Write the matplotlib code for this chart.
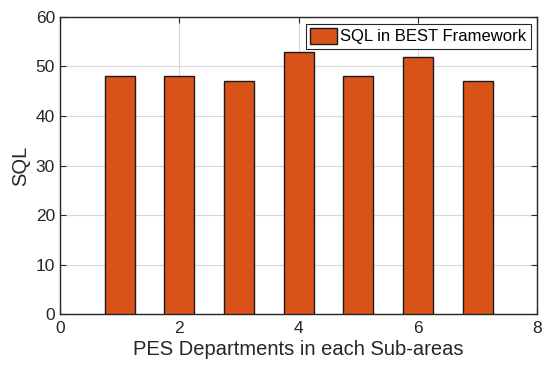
import matplotlib
matplotlib.use("Agg")
import matplotlib.pyplot as plt

departments = [1, 2, 3, 4, 5, 6, 7]
sql_values = [48, 48, 47, 53, 48, 52, 47]
series_label = "SQL in BEST Framework"

BAR_COLOR = "#D95319"

plt.rcParams.update({
    "font.family": ["Liberation Sans", "DejaVu Sans"],
    "axes.edgecolor": "#262626",
    "xtick.direction": "in",
    "ytick.direction": "in",
    "xtick.color": "#262626",
    "ytick.color": "#262626",
})

fig = plt.figure(figsize=(5.5, 3.77), dpi=100)
ax = fig.add_axes([0.109, 0.167, 0.868, 0.788])

ax.bar(departments, sql_values, width=0.5, color=BAR_COLOR,
       edgecolor="#1a1a1a", linewidth=1.0, label=series_label, zorder=3)

ax.set_xlim(0, 8)
ax.set_ylim(0, 60)
ax.set_xticks([0, 2, 4, 6, 8])
ax.set_yticks([0, 10, 20, 30, 40, 50, 60])
ax.tick_params(labelsize=12.5, top=True, right=True, length=4, width=0.8)
ax.tick_params(axis="x", pad=5)
ax.grid(True, color="#d9d9d9", linewidth=0.8, zorder=0)
ax.set_axisbelow(True)
for sp in ax.spines.values():
    sp.set_linewidth(1.0)

ax.set_xlabel("PES Departments in each Sub-areas", fontsize=14.5, color="#262626", labelpad=3)
ax.set_ylabel("SQL", fontsize=14.5, color="#262626", labelpad=4)

leg = ax.legend(loc="upper right", fontsize=12, fancybox=False, framealpha=1,
                edgecolor="#262626", borderaxespad=0.4, handlelength=1.6,
                handleheight=1.1, handletextpad=0.2, borderpad=0.25)
leg.get_frame().set_linewidth(0.8)

fig.savefig("out.png", dpi=100, facecolor="white")
